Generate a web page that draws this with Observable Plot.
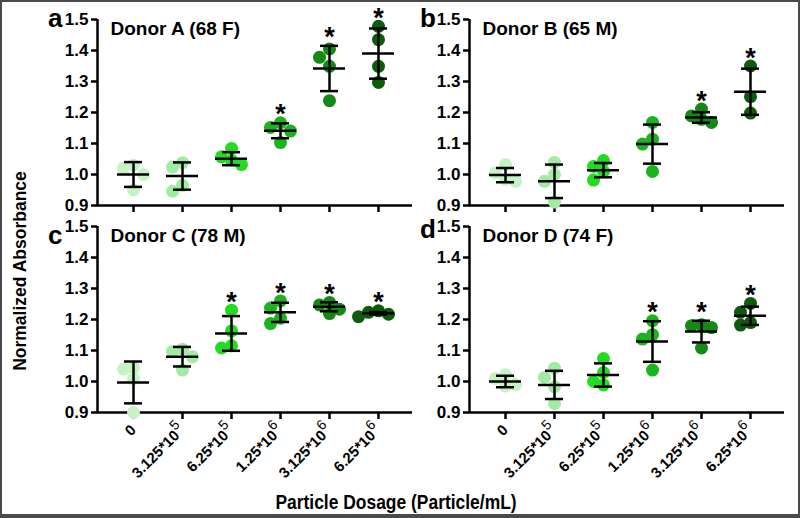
<!DOCTYPE html>
<html><head><meta charset="utf-8">
<script src="https://cdn.jsdelivr.net/npm/d3@7"></script>
<script src="https://cdn.jsdelivr.net/npm/@observablehq/plot@0.6"></script>
<style>
html,body{margin:0;padding:0;background:#fff;}
#fig{position:relative;width:800px;height:518px;overflow:hidden;background:#fff;font-family:"Liberation Sans",Arial,sans-serif;color:#000;}
#frame{position:absolute;left:0;top:0;width:800px;height:518px;box-sizing:border-box;border:2px solid #4a4a4a;border-bottom-width:4px;pointer-events:none;}
.panel{position:absolute;}
.letter{position:absolute;font-weight:bold;font-size:26px;line-height:1;}
#ytitle{position:absolute;left:20px;top:271px;transform:translate(-50%,-50%) rotate(-90deg);white-space:nowrap;font-weight:bold;font-size:17.5px;}
#xtitle{position:absolute;left:396px;top:502px;transform:translate(-50%,-50%) scaleX(0.83);white-space:nowrap;font-weight:bold;font-size:21px;}
#fig svg g[aria-label="y-axis tick label"]{font-size:17px;font-weight:bold;}
#fig svg g[aria-label="x-axis tick label"]{font-size:15px;font-weight:bold;}
</style>
</head><body>
<div id="fig">
  <div id="pa" class="panel" style="left:0px;top:-1px"></div>
  <div id="pb" class="panel" style="left:372px;top:-1px"></div>
  <div id="pc" class="panel" style="left:0px;top:206px"></div>
  <div id="pd" class="panel" style="left:372px;top:206px"></div>
  <div class="letter" style="left:48px;top:5px">a</div>
  <div class="letter" style="left:420px;top:5px">b</div>
  <div class="letter" style="left:48px;top:222px">c</div>
  <div class="letter" style="left:420px;top:216px">d</div>
  <div id="ytitle">Normalized Absorbance</div>
  <div id="xtitle">Particle Dosage (Particle/mL)</div>
  <div id="frame"></div>
</div>
<script>
// ---- data ----
const doses = ["0", "3.125*10^5", "6.25*10^5", "1.25*10^6", "3.125*10^6", "6.25*10^6"];
const doseColors = ["#c6f2c6", "#a2eba2", "#22dc22", "#1cb41c", "#138a13", "#0c5c0c"];
const yTicks = [0.9, 1.0, 1.1, 1.2, 1.3, 1.4, 1.5];

const titleA = "Donor A (68 F)";
const pointsA = [[1.03, 1.02, 1.0, 0.95], [1.038, 1.024, 0.965, 0.946], [1.084, 1.057, 1.046, 1.032], [1.167, 1.152, 1.14, 1.103], [1.405, 1.378, 1.349, 1.238], [1.478, 1.435, 1.349, 1.297]];
const meanA = [1.0, 0.995, 1.051, 1.141, 1.342, 1.39];
const sdA = [0.04, 0.044, 0.021, 0.024, 0.073, 0.081];
const sigA = [0, 0, 0, 1, 1, 1];

const titleB = "Donor B (65 M)";
const pointsB = [[1.032, 1.005, 0.985, 0.978], [1.039, 1.0, 0.978, 0.911], [1.045, 1.026, 1.01, 0.982], [1.168, 1.114, 1.098, 1.01], [1.211, 1.189, 1.178, 1.168], [1.35, 1.251, 1.198]];
const meanB = [0.998, 0.978, 1.014, 1.098, 1.184, 1.267];
const sdB = [0.023, 0.054, 0.023, 0.063, 0.017, 0.0745];
const sigB = [0, 0, 0, 0, 1, 1];

const titleC = "Donor C (78 M)";
const pointsC = [[1.045, 1.04, 1.008, 0.9], [1.104, 1.097, 1.08, 1.037], [1.23, 1.163, 1.115, 1.108], [1.26, 1.237, 1.204, 1.187], [1.255, 1.247, 1.233, 1.219], [1.228, 1.223, 1.217, 1.209]];
const meanC = [0.997, 1.08, 1.155, 1.223, 1.241, 1.22];
const sdC = [0.0675, 0.0315, 0.056, 0.031, 0.0145, 0.004];
const sigC = [0, 0, 1, 1, 1, 1];

const titleD = "Donor D (74 F)";
const pointsD = [[1.022, 1.01, 0.99, 0.985], [1.043, 1.013, 0.983, 0.929], [1.074, 1.029, 1.0, 0.989], [1.196, 1.151, 1.137, 1.037], [1.183, 1.18, 1.174, 1.108], [1.252, 1.223, 1.19, 1.182]];
const meanD = [1.0, 0.989, 1.021, 1.129, 1.161, 1.212];
const sdD = [0.0185, 0.0455, 0.0375, 0.0655, 0.035, 0.0295];
const sigD = [0, 0, 0, 1, 1, 1];

// ---- layout ----
const W = 415, ML = 97, MR = 3, MT = 20, PH = 186;
const xDomain = [-0.735, 5.694];
const pxPerX = (W - ML - MR) / (xDomain[1] - xDomain[0]);
const pxPerY = PH / 0.6;

// simple beeswarm (dodge) within each dose group, in pixel space
function swarm(points) {
  const rows = [];
  points.forEach((vals, i) => {
    const placed = [];
    vals.forEach(v => {
      const yp = v * pxPerY;
      for (const k of [0, -1, 1, -2, 2, -3, 3]) {
        const xp = k * 10;
        if (placed.every(p => Math.hypot(p.xp - xp, p.yp - yp) >= 10)) {
          placed.push({xp, yp});
          rows.push({i, dose: doses[i], value: v, x: i + xp / pxPerX});
          break;
        }
      }
    });
  });
  return rows;
}

function panel(sel, points, mean, sd, sig, title, showLabels) {
  const MB = showLabels ? 84 : 12;
  const dots = swarm(points);
  const stats = mean.map((m, i) => ({i, mean: m, lo: m - sd[i], hi: m + sd[i]}));
  const stars = stats.filter(d => sig[d.i]).map(d => ({i: d.i, top: Math.max(d.hi, d3.max(points[d.i]))}));
  const chart = Plot.plot({
    width: W, height: MT + PH + MB,
    marginLeft: ML, marginRight: MR, marginTop: MT, marginBottom: MB,
    style: {fontFamily: "'Liberation Sans', Arial, sans-serif", fontWeight: "bold", fontSize: "16px", color: "#000", background: "transparent", overflow: "visible"},
    x: {domain: xDomain},
    y: {domain: [0.9, 1.5]},
    marks: [
      Plot.axisY({ticks: yTicks, tickFormat: d3.format(".1f"), tickSize: 6, tickPadding: 3, strokeWidth: 2.5, label: null}),
      Plot.axisX({ticks: d3.range(doses.length), tickFormat: showLabels ? (i => doses[i]) : (() => ""), tickSize: 7, tickPadding: 8, tickRotate: showLabels ? -45 : 0, strokeWidth: 2.5, label: null}),
      Plot.ruleY([0.9], {strokeWidth: 2.5}),
      Plot.ruleX([xDomain[0]], {strokeWidth: 2.5}),
      Plot.dot(dots, {x: "x", y: "value", r: 6.5, fill: d => doseColors[d.i], stroke: "none"}),
      Plot.ruleX(stats, {x: "i", y1: "lo", y2: "hi", strokeWidth: 2.5}),
      Plot.ruleY(stats, {y: "mean", x1: d => d.i - 16 / pxPerX, x2: d => d.i + 16 / pxPerX, strokeWidth: 2.5}),
      Plot.ruleY(stats, {y: "hi", x1: d => d.i - 9 / pxPerX, x2: d => d.i + 9 / pxPerX, strokeWidth: 2.5}),
      Plot.ruleY(stats, {y: "lo", x1: d => d.i - 9 / pxPerX, x2: d => d.i + 9 / pxPerX, strokeWidth: 2.5}),
      Plot.text(stars, {x: "i", y: "top", text: () => "*", dy: -8, fontSize: 27, fontWeight: "bold", fill: "#000"}),
      Plot.text([title], {frameAnchor: "top-left", dx: 13, dy: 2, lineAnchor: "top", textAnchor: "start", fontSize: 19, fontWeight: "bold", fill: "#000"})
    ]
  });
  // superscript exponents on dose tick labels
  chart.querySelectorAll("text").forEach(t => {
    const s = t.textContent;
    if (s.includes("^") && t.children.length === 0) {
      const [base, exp] = s.split("^");
      t.textContent = "";
      const ns = "http://www.w3.org/2000/svg";
      const a = document.createElementNS(ns, "tspan"); a.textContent = base; t.appendChild(a);
      const b = document.createElementNS(ns, "tspan"); b.textContent = exp;
      b.setAttribute("dy", "-0.55em"); b.setAttribute("style", "font-size:14px;font-weight:normal");
      t.appendChild(b);
    }
  });
  document.querySelector(sel).appendChild(chart);
}

panel("#pa", pointsA, meanA, sdA, sigA, titleA, false);
panel("#pb", pointsB, meanB, sdB, sigB, titleB, false);
panel("#pc", pointsC, meanC, sdC, sigC, titleC, true);
panel("#pd", pointsD, meanD, sdD, sigD, titleD, true);
</script>
</body></html>
